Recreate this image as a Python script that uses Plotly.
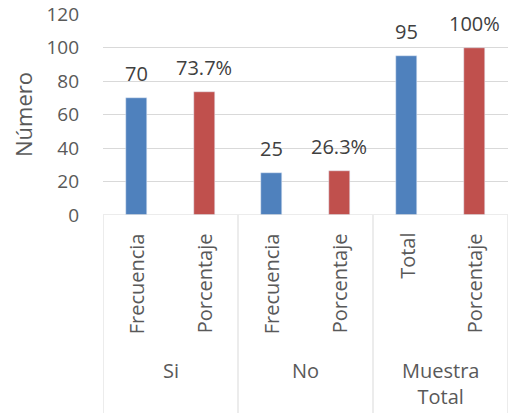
import plotly.graph_objects as go

# Survey summary: frequency (blue) and percentage (red) per answer group
groups = ["Si", "No", "Muestra<br>Total"]
sub_labels = ["Frecuencia", "Porcentaje", "Frecuencia", "Porcentaje", "Total", "Porcentaje"]
freq_values = [70, 25, 95]
pct_values = [73.7, 26.3, 100]
freq_text = ["70", "25", "95"]
pct_text = ["73.7%", "26.3%", "100%"]
y_ticks = [0, 20, 40, 60, 80, 100, 120]

BLUE = "#4F81BD"
RED = "#C0504D"
GRID = "#D9D9D9"
FONT = "Open Sans"
TEXT = "#595959"
LABEL = "#404040"

freq_pos = [2 * i for i in range(len(groups))]
pct_pos = [2 * i + 1 for i in range(len(groups))]

fig = go.Figure()
fig.add_trace(go.Bar(x=freq_pos, y=freq_values, width=0.31, marker_color=BLUE))
fig.add_trace(go.Bar(x=pct_pos, y=pct_values, width=0.31, marker_color=RED))

# Value labels above each bar
for xs, vals, txts in [(freq_pos, freq_values, freq_text), (pct_pos, pct_values, pct_text)]:
    for x, v, t in zip(xs, vals, txts):
        fig.add_annotation(
            x=x, y=v, xref="x", yref="y", text=t, showarrow=False,
            xanchor="center", yanchor="bottom", yshift=9,
            font=dict(family=FONT, size=20, color=LABEL),
        )

# First-level category labels, rotated and hanging from the axis
for i, lab in enumerate(sub_labels):
    fig.add_annotation(
        x=i, xref="x", y=-0.08, yref="paper", text=lab, textangle=-90,
        showarrow=False, xanchor="center", yanchor="top",
        font=dict(family=FONT, size=20, color=TEXT),
    )

# Second-level group labels
for g, lab in enumerate(groups):
    fig.add_annotation(
        x=2 * g + 0.5, xref="x", y=-0.695, yref="paper", text=lab,
        showarrow=False, xanchor="center", yanchor="top",
        font=dict(family=FONT, size=20, color=TEXT),
    )

# Axis line and group separators
fig.add_shape(type="line", xref="x", yref="y", x0=-0.5, x1=5.5, y0=0, y1=0,
              line=dict(color=GRID, width=1))
for b in [-0.5, 1.5, 3.5, 5.5]:
    fig.add_shape(type="line", xref="x", yref="y domain", x0=b, x1=b, y0=0, y1=-1.1,
                  line=dict(color=GRID, width=1))

fig.update_layout(
    width=508, height=413,
    margin=dict(l=103, r=0, t=14, b=198),
    plot_bgcolor="white", paper_bgcolor="white",
    showlegend=False, bargap=0,
    font=dict(family=FONT, color=TEXT),
    xaxis=dict(range=[-0.5, 5.5], showticklabels=False, showgrid=False,
               zeroline=False, showline=False, fixedrange=True),
    yaxis=dict(range=[0, 120], tickvals=y_ticks, showgrid=True, gridcolor=GRID,
               gridwidth=1, zeroline=False, showline=False, ticks="",
               ticklabelstandoff=23,
               tickfont=dict(family=FONT, size=19, color=TEXT),
               title=dict(text="Número", standoff=7,
                          font=dict(family=FONT, size=22, color=TEXT))),
)

fig.write_html("out.html")
